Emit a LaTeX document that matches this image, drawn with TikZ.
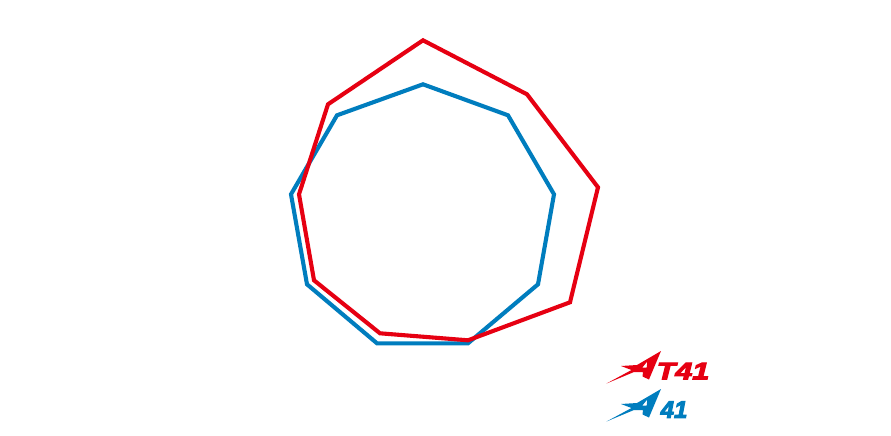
\documentclass[tikz,border=0pt]{standalone}
\usepackage{fontspec}
\setmainfont{Liberation Sans}
\newfontfamily\logofont[BoldItalicFeatures={FakeBold=4}]{Liberation Sans}
\definecolor{atred}{HTML}{E60012}
\definecolor{atblue}{HTML}{007DBE}
\tikzset{
  radar/.style={line width=4.1pt,line join=miter,miter limit=10},
  logotext/.style={inner sep=0pt,anchor=south west,font=\logofont\fontsize{24}{24}\selectfont\bfseries\itshape,transform shape},
  pics/swoosh/.style={code={
    \fill[#1,even odd rule]
      (0,0) -- (25,-13.5) -- (14.5,-17.5) -- (30.5,-18.5) -- (54.5,-32.5) -- (42.5,-4) -- (36,-7) -- (36.5,-11.5) -- (27.5,-11.5) -- cycle
      (35.8,-16) -- (40.8,-22) -- (40.2,-16) -- cycle;
  }}
}
\begin{document}
\begin{tikzpicture}[x=1pt,y=-1pt]
\useasboundingbox[fill=white] (0,0) rectangle (891,436);
\draw[radar,atblue] (423,84.3) -- (508,115.3) -- (554,194.3) -- (538,284.3) -- (468,343.3) -- (377,343.3) -- (307,284.3) -- (291,194.3) -- (337,115.3) -- cycle;
\draw[radar,atred] (423,40.3) -- (527,94.3) -- (598,187.3) -- (570,302.3) -- (468,340.3) -- (380,333.3) -- (314,280.3) -- (299,194.3) -- (328,104.3) -- cycle;
\pic at (606.5,383.5) {swoosh=atred};
\pic at (606.5,421.5) {swoosh=atblue};
\node[logotext,text=atred,xscale=1.27] (redlabel) at (656.5,379.5) {T41};
\node[logotext,text=atblue,xscale=1.0] (bluelabel) at (660.5,418) {41};
\end{tikzpicture}
\end{document}
